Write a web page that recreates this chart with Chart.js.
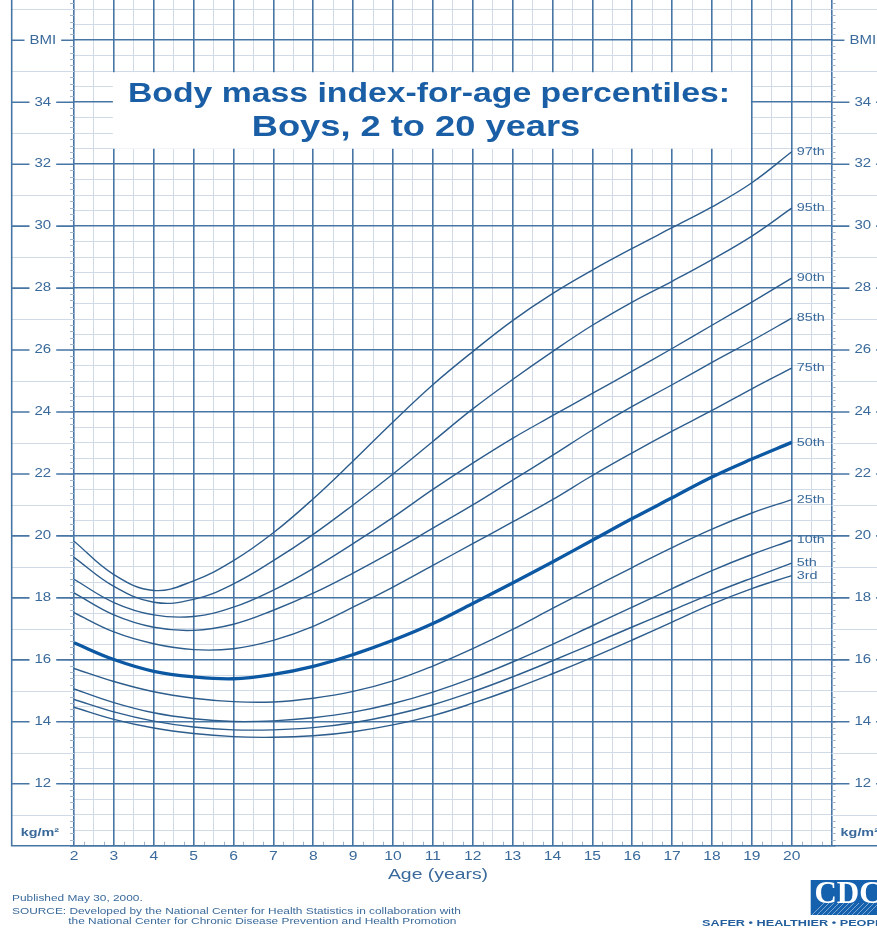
<!DOCTYPE html>
<html>
<head>
<meta charset="utf-8">
<title>Body mass index-for-age percentiles: Boys, 2 to 20 years</title>
<script src="https://cdn.jsdelivr.net/npm/chart.js@4.4.1/dist/chart.umd.min.js"></script>
<style>
  html, body { margin: 0; padding: 0; background: #fff; }
  canvas { display: block; }
</style>
</head>
<body>
<canvas id="bmi" width="877" height="928"></canvas>
<script>
// Age in years and BMI (kg/m²) for each percentile curve
const AGES = [2, 3, 4, 5, 6, 7, 8, 9, 10, 11, 12, 13, 14, 15, 16, 17, 18, 19, 20];
const P3  = [14.47, 14.08, 13.80, 13.62, 13.52, 13.50, 13.55, 13.68, 13.90, 14.20, 14.60, 15.05, 15.55, 16.08, 16.64, 17.22, 17.80, 18.30, 18.72];
const P5  = [14.72, 14.32, 14.02, 13.83, 13.74, 13.74, 13.81, 13.97, 14.22, 14.55, 14.97, 15.45, 15.97, 16.51, 17.06, 17.60, 18.14, 18.64, 19.12];
const P10 = [15.06, 14.62, 14.29, 14.10, 14.01, 14.03, 14.13, 14.31, 14.59, 14.96, 15.41, 15.93, 16.50, 17.10, 17.70, 18.30, 18.88, 19.40, 19.86];
const P25 = [15.72, 15.30, 14.97, 14.76, 14.65, 14.64, 14.76, 14.98, 15.32, 15.80, 16.36, 16.98, 17.66, 18.32, 18.98, 19.62, 20.22, 20.74, 21.17];
const P50 = [16.55, 16.01, 15.63, 15.45, 15.39, 15.53, 15.79, 16.17, 16.63, 17.17, 17.82, 18.48, 19.16, 19.86, 20.56, 21.23, 21.90, 22.48, 23.02];
const P75 = [17.52, 16.90, 16.52, 16.33, 16.36, 16.63, 17.08, 17.70, 18.35, 19.05, 19.75, 20.45, 21.17, 21.95, 22.68, 23.38, 24.05, 24.75, 25.42];
const P85 = [18.16, 17.45, 17.05, 16.95, 17.15, 17.60, 18.15, 18.80, 19.50, 20.25, 21.00, 21.80, 22.60, 23.42, 24.18, 24.88, 25.60, 26.30, 27.03];
const P90 = [18.60, 17.85, 17.45, 17.40, 17.70, 18.25, 18.95, 19.75, 20.60, 21.50, 22.35, 23.15, 23.88, 24.60, 25.32, 26.05, 26.80, 27.55, 28.32];
const P95 = [19.31, 18.37, 17.86, 17.95, 18.45, 19.20, 20.05, 21.00, 22.00, 23.05, 24.10, 25.05, 25.95, 26.80, 27.55, 28.22, 28.92, 29.68, 30.58];
const P97 = [19.83, 18.75, 18.24, 18.55, 19.20, 20.10, 21.20, 22.42, 23.68, 24.88, 25.95, 26.95, 27.82, 28.58, 29.28, 29.95, 30.62, 31.40, 32.40];

const CURVE_NAMES = ['3rd', '5th', '10th', '25th', '50th', '75th', '85th', '90th', '95th', '97th'];
const CURVE_VALUES = [P3, P5, P10, P25, P50, P75, P85, P90, P95, P97];

// Axis labels
const AGE_TICK_LABELS = ['2', '3', '4', '5', '6', '7', '8', '9', '10', '11', '12', '13', '14', '15', '16', '17', '18', '19', '20'];
const BMI_TICK_LABELS = ['12', '14', '16', '18', '20', '22', '24', '26', '28', '30', '32', '34'];
const BMI_TOP_LABEL = 'BMI';
const UNIT_LABEL = 'kg/m²';
const X_TITLE = 'Age (years)';
const TITLE_LINES = ['Body mass index-for-age percentiles:', 'Boys, 2 to 20 years'];
const FOOTER_LINES = [
  'Published May 30, 2000.',
  'SOURCE: Developed by the National Center for Health Statistics in collaboration with',
  'the National Center for Chronic Disease Prevention and Health Promotion'
];
const LOGO_TEXT = 'CDC';
const TAGLINE = 'SAFER • HEALTHIER • PEOPLE';

// Colours
const MAJOR = '#4776a5';
const MINOR = '#d0dbe7';
const TICKMARK = '#9fb5cd';
const CURVE = '#2d5d8d';
const MEDIAN = '#0c58a3';
const TEXT = '#3a6a9b';
const HEADING = '#1a5ea6';
const SX = 1.25;               // lettering is set wide
const FONT = '"Liberation Sans", Arial, Helvetica, sans-serif';

function steps(from, to, step) {
  const out = [];
  const n = Math.round((to - from) / step);
  for (let i = 0; i <= n; i++) out.push(+(from + i * step).toFixed(4));
  return out;
}

function drawText(ctx, s, x, y, font, color, align, sx) {
  ctx.save();
  ctx.font = font;
  ctx.fillStyle = color;
  ctx.textAlign = align || 'left';
  ctx.textBaseline = 'middle';
  ctx.translate(x, y);
  ctx.scale(sx || SX, 1);
  ctx.fillText(s, 0, 0);
  ctx.restore();
}

function textWidth(ctx, s, font, sx) {
  ctx.save();
  ctx.font = font;
  const w = ctx.measureText(s).width * (sx || SX);
  ctx.restore();
  return w;
}

const AGE_MIN = 2, AGE_MAX = 21, BMI_MIN = 10, BMI_MAX = 37.3;

const datasets = CURVE_VALUES.map((vals, i) => {
  const median = CURVE_NAMES[i] === '50th';
  return {
    label: CURVE_NAMES[i],
    data: AGES.map((a, j) => ({ x: a, y: vals[j] })),
    borderColor: median ? MEDIAN : CURVE,
    borderWidth: median ? 3.3 : 1.4,
    pointRadius: 0,
    tension: 0.4,
    fill: false,
    order: median ? 0 : 1
  };
});

const framePlugin = {
  id: 'frame',
  beforeDatasetsDraw(chart) {
    const { ctx, scales: { x, y } } = chart;
    // white panel that carries the heading
    const l = x.getPixelForValue(3) - 1;
    const r = x.getPixelForValue(19) - 1;
    const t = y.getPixelForValue(35) + 1;
    const b = y.getPixelForValue(32.5);
    ctx.save();
    ctx.fillStyle = '#fff';
    ctx.fillRect(l, t, r - l, b - t);
    ctx.restore();
  },
  afterDraw(chart) {
    const { ctx, chartArea: a, scales: { x, y } } = chart;
    const L0 = 11.7, L1 = a.left, R0 = a.right, R1 = a.right + (a.left - L0);
    ctx.save();

    // short ticks on the BMI edges
    ctx.strokeStyle = TICKMARK;
    ctx.lineWidth = 1;
    steps(BMI_MIN, 37.2, 0.2).forEach(v => {
      const py = Math.round(y.getPixelForValue(v)) + 0.5;
      ctx.beginPath();
      ctx.moveTo(L1 - 4, py); ctx.lineTo(L1, py);
      ctx.moveTo(R0, py); ctx.lineTo(R0 + 4, py);
      ctx.stroke();
    });
    // short ticks along the age edge
    steps(AGE_MIN, AGE_MAX, 0.25).forEach(v => {
      if (Math.abs(v * 2 - Math.round(v * 2)) < 1e-6) return;
      const px = Math.round(x.getPixelForValue(v)) + 0.5;
      ctx.beginPath();
      ctx.moveTo(px, a.bottom); ctx.lineTo(px, a.bottom - 4);
      ctx.stroke();
    });

    // light rules in the side margins at odd BMI values
    ctx.strokeStyle = MINOR;
    steps(11, 37, 1).filter(v => v % 2 === 1).forEach(v => {
      const py = Math.round(y.getPixelForValue(v)) + 0.5;
      ctx.beginPath();
      ctx.moveTo(L0, py); ctx.lineTo(L1, py);
      ctx.moveTo(R0, py); ctx.lineTo(R1, py);
      ctx.stroke();
    });

    // labelled rules at even BMI values
    const labFont = '12px ' + FONT;
    const rows = BMI_TICK_LABELS.map(s => ({ v: +s, s }));
    rows.push({ v: 36, s: BMI_TOP_LABEL });
    ctx.strokeStyle = MAJOR;
    ctx.lineWidth = 1.6;
    rows.forEach(({ v, s }) => {
      const py = y.getPixelForValue(v);
      const w = textWidth(ctx, s, labFont);
      [[L0, L1], [R0, R1]].forEach(([p, q]) => {
        const c = (p + q) / 2;
        ctx.beginPath();
        ctx.moveTo(p, py); ctx.lineTo(c - w / 2 - 5, py);
        ctx.moveTo(c + w / 2 + 5, py); ctx.lineTo(q, py);
        ctx.stroke();
        drawText(ctx, s, c, py, labFont, TEXT, 'center');
      });
    });

    // outer frame
    ctx.beginPath();
    ctx.moveTo(L0, 0); ctx.lineTo(L0, a.bottom);
    ctx.lineTo(R1, a.bottom); ctx.lineTo(R1, 0);
    ctx.stroke();

    // units
    const unitFont = 'bold 11.5px ' + FONT;
    const uy = y.getPixelForValue(10.4);
    drawText(ctx, UNIT_LABEL, L0 + 9, uy, unitFont, TEXT, 'left');
    drawText(ctx, UNIT_LABEL, R0 + 9, uy, unitFont, TEXT, 'left');

    // age labels
    const ageFont = '12.5px ' + FONT;
    AGE_TICK_LABELS.forEach(s => {
      drawText(ctx, s, x.getPixelForValue(+s), a.bottom + 11, ageFont, TEXT, 'center');
    });
    drawText(ctx, X_TITLE, 438, 875, '15.5px ' + FONT, TEXT, 'center');

    // heading
    drawText(ctx, TITLE_LINES[0], 429, 95, 'bold 27px ' + FONT, HEADING, 'center');
    drawText(ctx, TITLE_LINES[1], 416, 128, 'bold 29px ' + FONT, HEADING, 'center');

    // curve names at the right-hand end
    const nameFont = '11.5px ' + FONT;
    const lastAge = AGES[AGES.length - 1];
    CURVE_VALUES.forEach((vals, i) => {
      const py = y.getPixelForValue(vals[vals.length - 1]);
      drawText(ctx, CURVE_NAMES[i], x.getPixelForValue(lastAge) + 5, py, nameFont, TEXT, 'left');
    });

    // footer notes
    const noteFont = '9.5px ' + FONT;
    drawText(ctx, FOOTER_LINES[0], 12, 898, noteFont, TEXT, 'left');
    drawText(ctx, FOOTER_LINES[1], 12, 911, noteFont, TEXT, 'left');
    drawText(ctx, FOOTER_LINES[2], 68.3, 921, noteFont, TEXT, 'left');

    // agency mark
    ctx.fillStyle = '#1661ad';
    ctx.fillRect(810.7, 880, 80, 35);
    ctx.save();
    ctx.beginPath();
    ctx.rect(810.7, 880, 80, 35);
    ctx.clip();
    ctx.strokeStyle = 'rgba(255,255,255,0.55)';
    ctx.lineWidth = 0.8;
    for (let i = 0; i < 12; i++) {
      ctx.beginPath();
      ctx.moveTo(812 + i * 5, 915);
      ctx.lineTo(824 + i * 5, 903);
      ctx.stroke();
    }
    ctx.restore();
    drawText(ctx, LOGO_TEXT, 848, 895, 'bold 31px "Liberation Serif", "DejaVu Serif", serif', '#ffffff', 'center', 1.0);
    drawText(ctx, TAGLINE, 702, 924, 'bold 9px ' + FONT, '#235f9c', 'left', 1.41);

    ctx.restore();
  }
};

const gridScale = (axis, min, max, minor, pos) => ({
  type: 'linear',
  position: pos,
  min, max,
  z: minor ? -2 : -1,
  border: { display: false },
  ticks: { display: false },
  grid: {
    drawTicks: false,
    color: minor ? MINOR : MAJOR,
    lineWidth: minor ? 1 : 1.6
  },
  afterBuildTicks: (scale) => {
    let vals;
    if (axis === 'x') vals = minor ? steps(AGE_MIN, AGE_MAX, 0.5).filter(v => !Number.isInteger(v)) : steps(AGE_MIN, AGE_MAX, 1);
    else vals = minor ? steps(BMI_MIN, 37, 0.5).filter(v => v % 2 !== 0) : steps(BMI_MIN, 36, 2);
    scale.ticks = vals.map(v => ({ value: v }));
  },
  afterFit: (scale) => {
    if (axis === 'x') scale.height = minor ? 0 : 82.3;
    else scale.width = minor ? 0 : 74;
  }
});

new Chart(document.getElementById('bmi'), {
  type: 'line',
  data: { datasets },
  options: {
    responsive: false,
    animation: false,
    devicePixelRatio: 1,
    layout: { padding: { left: 0, right: 45.4, top: 0, bottom: 0 } },
    plugins: { legend: { display: false }, tooltip: { enabled: false } },
    scales: {
      xm: gridScale('x', AGE_MIN, AGE_MAX, true, 'bottom'),
      ym: gridScale('y', BMI_MIN, BMI_MAX, true, 'left'),
      x: gridScale('x', AGE_MIN, AGE_MAX, false, 'bottom'),
      y: gridScale('y', BMI_MIN, BMI_MAX, false, 'left')
    }
  },
  plugins: [framePlugin]
});
</script>
</body>
</html>
